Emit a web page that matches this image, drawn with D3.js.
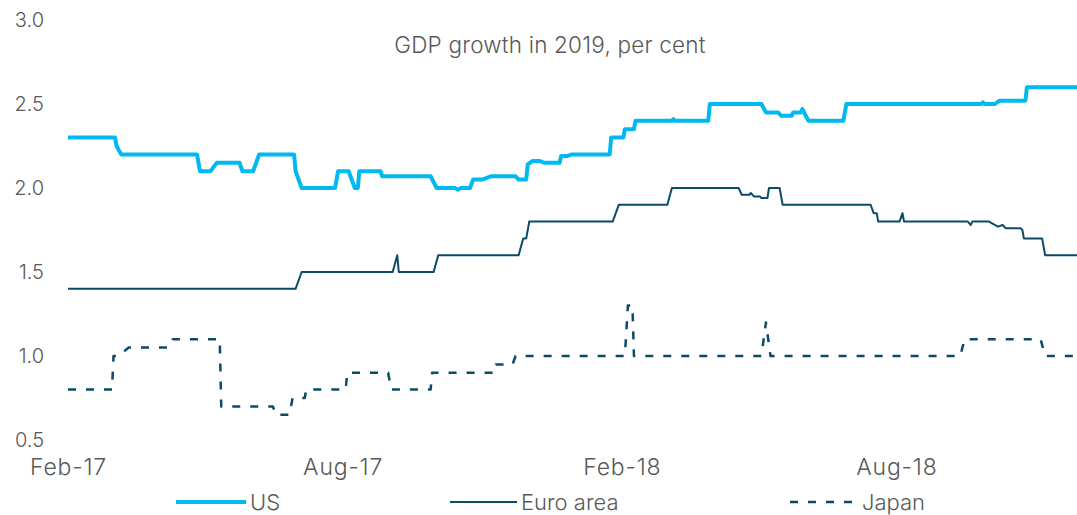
<!DOCTYPE html>
<html>
<head>
<meta charset="utf-8">
<script src="https://cdn.jsdelivr.net/npm/d3@7"></script>
<style>
  html, body { margin: 0; padding: 0; background: #fff; }
  svg { display: block; font-family: Inter, Roboto, "Noto Sans", sans-serif; font-weight: 300; }
</style>
</head>
<body>
<svg id="chart" width="1077" height="515"></svg>
<script>
// Consensus forecasts of GDP growth in 2019, per cent, by survey date
const title = "GDP growth in 2019, per cent";
const seriesNames = ["US", "Euro area", "Japan"];

const usPoints = [
  ["2017-02-01", 2.3], ["2017-03-04", 2.3], ["2017-03-05", 2.25], ["2017-03-08", 2.2],
  ["2017-04-27", 2.2], ["2017-04-29", 2.1], ["2017-05-06", 2.1], ["2017-05-10", 2.15],
  ["2017-05-25", 2.15], ["2017-05-27", 2.1], ["2017-06-03", 2.1], ["2017-06-07", 2.2],
  ["2017-06-30", 2.2], ["2017-07-01", 2.1], ["2017-07-05", 2.0], ["2017-07-27", 2.0],
  ["2017-07-29", 2.1], ["2017-08-05", 2.1], ["2017-08-09", 2.0], ["2017-08-11", 2.0],
  ["2017-08-12", 2.1], ["2017-08-26", 2.1], ["2017-08-27", 2.07], ["2017-09-28", 2.07],
  ["2017-10-02", 2.0], ["2017-10-14", 2.0], ["2017-10-16", 1.99], ["2017-10-18", 2.0],
  ["2017-10-24", 2.0], ["2017-10-26", 2.05], ["2017-11-01", 2.05], ["2017-11-04", 2.06],
  ["2017-11-07", 2.07], ["2017-11-23", 2.07], ["2017-11-25", 2.05], ["2017-11-30", 2.05],
  ["2017-12-01", 2.14], ["2017-12-04", 2.16], ["2017-12-09", 2.16], ["2017-12-12", 2.15],
  ["2017-12-22", 2.15], ["2017-12-23", 2.19], ["2017-12-27", 2.19], ["2017-12-30", 2.2],
  ["2018-01-24", 2.2], ["2018-01-25", 2.3], ["2018-02-02", 2.3], ["2018-02-03", 2.35],
  ["2018-02-09", 2.35], ["2018-02-10", 2.4], ["2018-03-06", 2.4], ["2018-03-07", 2.41],
  ["2018-03-08", 2.4], ["2018-03-30", 2.4], ["2018-03-31", 2.5], ["2018-05-04", 2.5],
  ["2018-05-07", 2.45], ["2018-05-15", 2.45], ["2018-05-17", 2.43], ["2018-05-24", 2.43],
  ["2018-05-25", 2.45], ["2018-05-30", 2.45], ["2018-05-31", 2.47], ["2018-06-04", 2.4],
  ["2018-06-27", 2.4], ["2018-06-29", 2.5], ["2018-09-26", 2.5], ["2018-09-27", 2.51],
  ["2018-09-28", 2.5], ["2018-10-05", 2.5], ["2018-10-08", 2.52], ["2018-10-25", 2.52],
  ["2018-10-26", 2.6], ["2018-11-28", 2.6]
];

const euroPoints = [
  ["2017-02-01", 1.4], ["2017-07-01", 1.4], ["2017-07-05", 1.5], ["2017-09-03", 1.5],
  ["2017-09-06", 1.6], ["2017-09-07", 1.5], ["2017-09-30", 1.5], ["2017-10-03", 1.6],
  ["2017-11-25", 1.6], ["2017-11-28", 1.7], ["2017-11-30", 1.7], ["2017-12-02", 1.8],
  ["2018-01-26", 1.8], ["2018-01-30", 1.9], ["2018-03-03", 1.9], ["2018-03-06", 2.0],
  ["2018-04-19", 2.0], ["2018-04-21", 1.96], ["2018-04-26", 1.96], ["2018-04-27", 1.97],
  ["2018-04-29", 1.95], ["2018-05-03", 1.95], ["2018-05-04", 1.94], ["2018-05-08", 1.94],
  ["2018-05-09", 2.0], ["2018-05-16", 2.0], ["2018-05-18", 1.9], ["2018-07-15", 1.9],
  ["2018-07-17", 1.85], ["2018-07-19", 1.85], ["2018-07-20", 1.8], ["2018-08-03", 1.8],
  ["2018-08-05", 1.85], ["2018-08-06", 1.8], ["2018-09-17", 1.8], ["2018-09-19", 1.78],
  ["2018-09-20", 1.8], ["2018-10-01", 1.8], ["2018-10-03", 1.79], ["2018-10-07", 1.77],
  ["2018-10-10", 1.78], ["2018-10-12", 1.76], ["2018-10-22", 1.76], ["2018-10-23", 1.75],
  ["2018-10-24", 1.7], ["2018-11-05", 1.7], ["2018-11-07", 1.6], ["2018-11-28", 1.6]
];

const japanPoints = [
  ["2017-02-01", 0.8], ["2017-03-02", 0.8], ["2017-03-03", 1.0], ["2017-03-06", 1.0],
  ["2017-03-13", 1.05], ["2017-04-08", 1.05], ["2017-04-11", 1.1], ["2017-05-12", 1.1],
  ["2017-05-13", 0.7], ["2017-06-16", 0.7], ["2017-06-18", 0.65], ["2017-06-27", 0.65],
  ["2017-06-29", 0.75], ["2017-07-07", 0.75], ["2017-07-08", 0.8], ["2017-08-03", 0.8],
  ["2017-08-04", 0.9], ["2017-08-31", 0.9], ["2017-09-02", 0.8], ["2017-09-28", 0.8],
  ["2017-09-29", 0.9], ["2017-11-09", 0.9], ["2017-11-10", 0.95], ["2017-11-21", 0.95],
  ["2017-11-23", 1.0], ["2018-02-03", 1.0], ["2018-02-05", 1.3], ["2018-02-08", 1.3],
  ["2018-02-09", 1.0], ["2018-05-04", 1.0], ["2018-05-07", 1.2], ["2018-05-10", 1.0],
  ["2018-09-12", 1.0], ["2018-09-15", 1.1], ["2018-11-04", 1.1], ["2018-11-07", 1.0],
  ["2018-11-28", 1.0]
];

const yTicks = [0.5, 1.0, 1.5, 2.0, 2.5, 3.0];
const xTickDates = ["2017-02-01", "2017-08-01", "2018-02-01", "2018-08-01"];
const xTickLabels = ["Feb-17", "Aug-17", "Feb-18", "Aug-18"];
const dateDomain = ["2017-02-01", "2018-11-28"];

const parse = d3.utcParse("%Y-%m-%d");
const toRows = pts => pts.map(([d, v]) => ({ date: parse(d), value: v }));

const svg = d3.select("#chart");
const textColor = "#595959";
const usColor = "#00B9F1";
const darkColor = "#0B4B66";
const fontStack = "Inter, Roboto, sans-serif";

const x = d3.scaleUtc().domain(dateDomain.map(parse)).range([68, 1077]);
const y = d3.scaleLinear().domain([0.5, 3.0]).range([440, 20]);

// y axis: labels only
const yAxis = d3.axisLeft(y).tickValues(yTicks).tickFormat(d3.format(".1f")).tickSize(0).tickPadding(0);
svg.append("g")
  .attr("transform", "translate(44,0)")
  .call(yAxis)
  .call(g => g.select(".domain").remove())
  .call(g => g.selectAll("text")
    .attr("fill", textColor).attr("font-size", 20)
    .attr("font-family", fontStack).attr("font-weight", 300));

// x axis: labels only
const tickMap = new Map(xTickDates.map((d, i) => [+parse(d), xTickLabels[i]]));
const xAxis = d3.axisBottom(x).tickValues(xTickDates.map(parse))
  .tickFormat(d => tickMap.get(+d)).tickSize(0).tickPadding(0);
svg.append("g")
  .attr("transform", "translate(0,459)")
  .call(xAxis)
  .call(g => g.select(".domain").remove())
  .call(g => g.selectAll("text")
    .attr("fill", textColor).attr("font-size", 23)
    .attr("letter-spacing", 0.8)
    .attr("font-family", fontStack).attr("font-weight", 300));

// title
svg.append("text")
  .attr("x", 550).attr("y", 53)
  .attr("text-anchor", "middle")
  .attr("fill", textColor)
  .attr("font-size", 22.5)
  .attr("letter-spacing", 0.2)
  .text(title);

const line = d3.line().x(d => x(d.date)).y(d => y(d.value)).curve(d3.curveLinear);

const series = [
  { name: seriesNames[0], rows: toRows(usPoints), color: usColor, width: 4, dash: null },
  { name: seriesNames[1], rows: toRows(euroPoints), color: darkColor, width: 2, dash: null },
  { name: seriesNames[2], rows: toRows(japanPoints), color: darkColor, width: 2.5, dash: "8,10" }
];

svg.append("g").selectAll("path")
  .data(series.slice().reverse())
  .join("path")
  .attr("d", s => line(s.rows))
  .attr("fill", "none")
  .attr("stroke", s => s.color)
  .attr("stroke-width", s => s.width)
  .attr("stroke-dasharray", s => s.dash)
  .attr("stroke-linejoin", "round");

// legend
const legendItems = [
  { s: series[0], x0: 176, x1: 246 },
  { s: series[1], x0: 450, x1: 517 },
  { s: series[2], x0: 790, x1: 858 }
];
const lg = svg.append("g");
legendItems.forEach(it => {
  lg.append("line")
    .attr("x1", it.x0).attr("x2", it.x1).attr("y1", 502).attr("y2", 502)
    .attr("stroke", it.s.color).attr("stroke-width", it.s.width)
    .attr("stroke-dasharray", it.s.dash);
  lg.append("text")
    .attr("x", it.x1 + 4).attr("y", 510)
    .attr("fill", textColor).attr("font-size", 22)
    .text(it.s.name);
});
</script>
</body>
</html>
